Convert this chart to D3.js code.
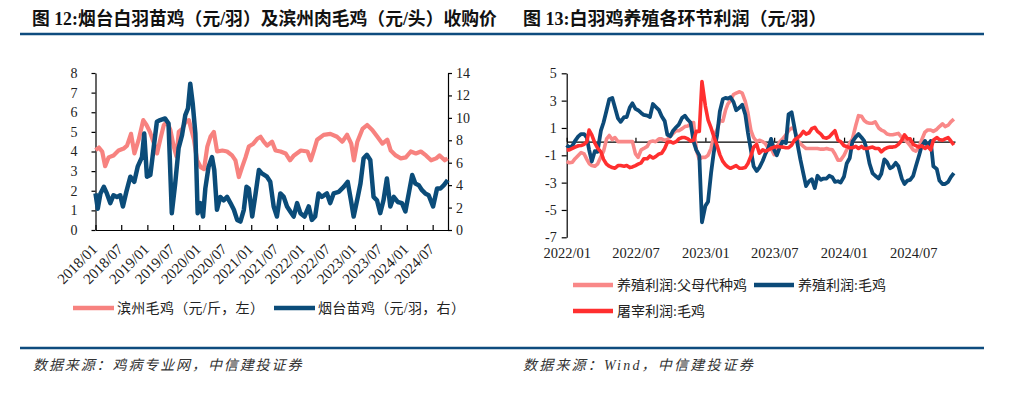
<!DOCTYPE html>
<html><head><meta charset="utf-8">
<script src="https://cdn.jsdelivr.net/npm/d3@7"></script>
<style>body{margin:0;background:#fff}svg{display:block}</style>
</head><body>
<svg id="c" width="1033" height="398"></svg>
<script>
// ---------- texts ----------
const leftTitle = "图 12:烟台白羽苗鸡（元/羽）及滨州肉毛鸡（元/头）收购价";
const rightTitle = "图 13:白羽鸡养殖各环节利润（元/羽）";
const leftSource = "数据来源：鸡病专业网，中信建投证券";
const rightSource = "数据来源：Wind，中信建投证券";
const leftLegend = ["滨州毛鸡（元/斤，左）", "烟台苗鸡（元/羽，右）"];
const rightLegend = ["养殖利润:父母代种鸡", "养殖利润:毛鸡", "屠宰利润:毛鸡"];

// ---------- left chart data ----------
const leftTickDates = ["2018-01-01","2018-07-01","2019-01-01","2019-07-01","2020-01-01","2020-07-01","2021-01-01","2021-07-01","2022-01-01","2022-07-01","2023-01-01","2023-07-01","2024-01-01","2024-07-01"];
const leftTickLabels = ["2018/01","2018/07","2019/01","2019/07","2020/01","2020/07","2021/01","2021/07","2022/01","2022/07","2023/01","2023/07","2024/01","2024/07"];
const leftAxisTicks = [0,1,2,3,4,5,6,7,8];
const rightAxisTicks = [0,2,4,6,8,10,12,14];

// 滨州毛鸡 (元/斤, left axis)
const binzhouBroiler = [
["2018-01-01",4.07],["2018-01-25",4.2],["2018-02-17",4.0],["2018-03-10",3.25],["2018-04-03",3.7],["2018-05-08",3.8],
["2018-06-12",4.05],["2018-07-18",4.15],["2018-08-11",4.3],["2018-09-08",4.9],["2018-10-02",3.9],["2018-11-01",4.6],
["2018-12-03",5.6],["2018-12-26",5.35],["2019-01-19",5.0],["2019-02-17",4.4],["2019-03-10",3.9],["2019-04-03",4.65],
["2019-04-27",5.35],["2019-05-19",5.5],["2019-06-12",5.1],["2019-07-06",4.25],["2019-07-25",3.75],["2019-08-10",5.0],
["2019-09-03",5.15],["2019-09-26",5.5],["2019-10-20",5.6],["2019-11-25",4.6],["2019-12-17",3.55],["2020-01-12",3.2],
["2020-02-04",3.1],["2020-02-27",4.25],["2020-03-20",4.75],["2020-04-13",5.0],["2020-05-06",4.0],["2020-06-12",4.05],
["2020-07-15",4.0],["2020-08-19",3.8],["2020-09-12",3.55],["2020-10-06",2.7],["2020-10-29",3.2],["2020-11-22",3.7],
["2020-12-15",4.25],["2021-01-16",4.4],["2021-02-13",4.65],["2021-03-08",4.75],["2021-03-30",4.5],["2021-04-23",4.3],
["2021-05-28",4.5],["2021-06-21",4.05],["2021-07-26",4.0],["2021-08-31",3.9],["2021-10-01",3.55],["2021-10-29",3.8],
["2021-12-16",4.05],["2022-02-01",4.0],["2022-02-24",3.55],["2022-03-18",4.05],["2022-04-10",4.6],["2022-05-26",4.85],
["2022-07-12",4.9],["2022-08-28",4.75],["2022-10-04",4.5],["2022-11-07",4.85],["2022-12-06",4.4],["2022-12-25",3.55],
["2023-01-18",4.5],["2023-02-23",5.15],["2023-03-28",5.35],["2023-05-03",5.1],["2023-06-08",4.75],["2023-07-14",4.4],
["2023-08-17",4.6],["2023-09-10",4.05],["2023-10-15",3.8],["2023-11-20",3.65],["2023-12-25",3.7],["2024-01-29",4.0],
["2024-03-05",3.9],["2024-04-09",4.0],["2024-05-15",3.8],["2024-06-20",3.55],["2024-07-26",3.65],["2024-08-19",3.8],
["2024-09-24",3.55],["2024-10-14",3.65]
];

// 烟台苗鸡 (元/羽, right axis)
const yantaiChick = [
["2018-01-01",3.26],["2018-01-17",1.9],["2018-02-05",3.26],["2018-03-01",3.85],["2018-03-22",3.26],["2018-04-15",2.4],
["2018-05-08",3.1],["2018-06-01",2.95],["2018-06-24",3.1],["2018-07-13",2.1],["2018-08-06",3.4],["2018-09-03",4.75],
["2018-10-01",4.3],["2018-10-25",5.65],["2018-11-24",6.5],["2018-12-10",8.6],["2018-12-29",4.75],["2019-01-22",4.9],
["2019-02-15",7.4],["2019-03-09",9.65],["2019-04-01",9.8],["2019-05-06",9.95],["2019-05-30",9.5],["2019-06-22",1.5],
["2019-07-16",4.15],["2019-08-09",7.3],["2019-09-02",8.45],["2019-09-25",10.25],["2019-10-14",10.85],["2019-10-30",13.05],
["2019-11-16",11.3],["2019-12-05",8.6],["2019-12-21",1.5],["2020-01-09",2.4],["2020-01-28",1.2],["2020-02-13",3.7],
["2020-03-07",5.65],["2020-03-31",6.5],["2020-04-16",5.35],["2020-05-05",1.8],["2020-05-28",2.95],["2020-06-21",2.65],
["2020-07-15",2.95],["2020-08-08",2.4],["2020-09-01",1.8],["2020-09-24",0.9],["2020-10-17",0.75],["2020-11-10",1.8],
["2020-11-29",3.85],["2020-12-15",3.7],["2021-01-08",1.2],["2021-02-01",3.26],["2021-02-24",5.35],["2021-03-17",5.05],
["2021-04-22",4.75],["2021-05-15",4.3],["2021-06-08",2.1],["2021-07-01",1.2],["2021-07-25",3.26],["2021-08-18",2.95],
["2021-09-10",2.1],["2021-10-03",1.65],["2021-10-27",1.2],["2021-11-20",2.4],["2021-12-13",1.5],["2022-01-11",1.2],
["2022-02-10",2.1],["2022-03-04",0.9],["2022-03-27",1.2],["2022-04-20",3.26],["2022-05-13",2.95],["2022-06-18",3.26],
["2022-07-11",2.4],["2022-08-04",3.26],["2022-09-09",3.4],["2022-10-14",3.85],["2022-11-11",4.3],["2022-12-04",2.65],
["2022-12-23",1.2],["2023-01-21",2.95],["2023-02-09",4.15],["2023-03-03",6.4],["2023-03-26",6.7],["2023-04-19",6.25],
["2023-05-12",2.95],["2023-06-05",2.65],["2023-06-28",1.5],["2023-07-21",2.65],["2023-08-14",4.6],["2023-09-07",2.1],
["2023-10-01",2.95],["2023-10-29",2.5],["2023-11-28",2.4],["2023-12-22",1.65],["2024-01-15",3.26],["2024-02-08",4.9],
["2024-03-01",4.15],["2024-03-25",4.0],["2024-04-17",3.55],["2024-05-10",3.26],["2024-06-03",3.1],["2024-07-04",2.1],
["2024-08-01",3.7],["2024-08-25",3.7],["2024-09-18",4.0],["2024-10-15",4.45]
];

// ---------- right chart data ----------
const profitMonths = ["2022-01","2022-02","2022-03","2022-04","2022-05","2022-06","2022-07","2022-08","2022-09","2022-10","2022-11","2022-12",
"2023-01","2023-02","2023-03","2023-04","2023-05","2023-06","2023-07","2023-08","2023-09","2023-10","2023-11","2023-12",
"2024-01","2024-02","2024-03","2024-04","2024-05","2024-06","2024-07","2024-08","2024-09","2024-10"];
const sampleDays = ["01","08","16","23"];
const profitTickDates = ["2022-01-01","2022-07-01","2023-01-01","2023-07-01","2024-01-01","2024-07-01"];
const profitTickLabels = ["2022/01","2022/07","2023/01","2023/07","2024/01","2024/07"];
const profitAxisTicks = [-7,-5,-3,-1,1,3,5];
const profitAxisLabels = ["-7","-5","-3","-1","1","3","5"];

// 养殖利润:父母代种鸡
const breederProfit = [
-1.45,-1.55,-1.5,-1.25, -1.0,-0.8,-0.9,-1.3, -1.6,-1.75,-1.8,-1.65, -1.1,-0.7,0.2,0.45,
0.15,0.3,0.0,0.0, 0.0,0.0,0.0,0.0, -0.9,-1.15,-0.6,-0.5, -0.35,0.0,0.05,0.0,
0.2,0.2,0.1,0.15, 0.4,0.6,0.8,0.8, 0.95,1.1,1.15,1.3, 1.4,-0.6,-1.3,-1.15,
-1.15,-1.0,-0.5,0.4, 0.9,1.55,1.5,2.3, 2.75,3.0,3.45,3.55, 3.65,3.55,2.95,2.1,
0.8,0.3,0.0,0.1, 0.0,-0.15,-0.5,-0.5, -0.95,-0.4,0.0,0.2, 0.5,0.8,1.0,0.9,
0.1,-0.15,-0.35,-0.5, -0.5,-0.5,-0.5,-0.5, -0.55,-0.55,-0.5,-0.55, -0.6,-0.9,-1.35,-1.35,
-1.0,-0.6,-0.1,0.2, 1.2,1.9,1.85,1.55, 1.4,1.35,1.35,1.45, 1.0,0.85,0.75,0.55,
0.5,0.5,0.55,0.6, 0.3,0.15,-0.05,-0.3, -0.6,-0.7,-0.4,0.1, 0.7,0.85,0.85,0.75,
0.9,1.1,1.3,1.1, 1.2,1.45,1.65
];
// 养殖利润:毛鸡
const broilerProfit = [
-0.25,-0.45,-0.3,0.05, 0.4,0.55,0.55,0.3, -0.6,-1.45,-0.7,-0.75, 0.8,1.4,2.3,3.1,
3.2,2.5,1.7,1.45, 1.8,1.8,2.5,2.8, 2.4,2.3,2.1,1.95, 1.9,1.8,2.75,2.55,
2.3,1.85,1.5,0.5, 0.4,0.8,1.05,1.25, 1.75,1.9,1.6,1.4, 0.0,-0.6,-1.0,-5.9,
-4.7,-4.4,-2.3,-0.8, 0.5,2.2,3.1,3.2, 3.15,3.25,2.9,2.3, 2.5,2.7,2.0,0.65,
-0.65,-1.8,-2.15,-1.9, -1.4,-0.9,-0.45,0.2, -0.6,-1.0,-0.4,0.0, -0.1,2.0,2.15,1.1,
-0.25,-1.3,-2.35,-3.25, -2.9,-2.75,-3.4,-2.5, -2.8,-2.7,-2.7,-2.5, -2.6,-2.95,-2.9,-3.0,
-2.55,-1.6,-1.2,0.0, 0.35,0.55,0.3,0.05, -0.6,-1.6,-2.3,-2.5, -2.7,-2.35,-1.3,-1.5,
-1.95,-1.85,-1.55,-1.8, -2.7,-3.1,-2.85,-2.8, -2.5,-1.8,-1.05,-0.35, 0.05,-0.3,0.05,-1.8,
-2.0,-2.85,-3.1,-3.1, -2.95,-2.6,-2.3
];
// 屠宰利润:毛鸡
const slaughterProfit = [
-0.6,-0.6,-0.5,-0.4, -0.3,-0.28,-0.2,0.0, 0.85,0.5,-0.1,-0.45, -0.75,-1.3,-1.65,-1.8,
-1.9,-1.95,-1.75,-1.75, -1.8,-1.75,-1.9,-1.85, -1.75,-1.65,-1.55,-1.25, -1.25,-1.05,-1.2,-1.1,
-0.9,-0.85,-0.5,-0.05, 0.0,-0.1,0.0,0.2, 0.3,0.3,0.2,0.05, 0.1,0.75,0.75,4.4,
2.6,1.6,1.0,0.4, -0.3,-0.95,-1.45,-1.7, -1.85,-1.95,-1.85,-1.75, -1.95,-1.95,-1.9,-1.6,
-1.05,-0.4,-0.2,-0.85, -0.6,-0.7,-0.6,-0.5, -0.4,-0.35,-0.38,-0.4, -0.45,-0.45,-0.25,0.1,
0.3,0.45,0.75,0.55, 0.65,0.95,1.05,0.75, 0.55,0.3,0.25,0.35, 0.6,0.8,0.1,0.0,
-0.3,-0.35,-0.45,-0.45, -0.35,-0.5,-0.35,-0.5, -0.5,-0.45,-0.4,-0.5, -0.5,-0.75,-0.55,-0.45,
-0.4,-0.4,-0.35,-0.2, 0.1,0.5,0.2,0.2, -0.2,-0.3,-0.4,-0.3, -0.5,-0.35,-0.6,0.1,
0.3,0.15,0.1,0.2, 0.3,0.05,-0.25
];

// ---------- drawing ----------
const parse = d3.timeParse("%Y-%m-%d");
const svg = d3.select("#c");
const serif = "'Liberation Serif','Times New Roman','Noto Sans CJK SC',serif";
const cjk = "'Liberation Serif','Noto Sans CJK SC',sans-serif";
const NAVY = "#0E4C7E";
const textCol = "#222";

// headers
svg.append("text").attr("x", 32).attr("y", 25).attr("font-family", cjk).attr("font-weight", "bold")
  .attr("font-size", 17.8).attr("fill", "#111").text(leftTitle);
svg.append("text").attr("x", 523).attr("y", 25).attr("font-family", cjk).attr("font-weight", "bold")
  .attr("font-size", 18).attr("fill", "#111").text(rightTitle);
svg.append("line").attr("x1", 20).attr("x2", 984).attr("y1", 34).attr("y2", 34)
  .attr("stroke", NAVY).attr("stroke-width", 2.5);
svg.append("line").attr("x1", 20).attr("x2", 984).attr("y1", 348).attr("y2", 348)
  .attr("stroke", NAVY).attr("stroke-width", 2.5);
svg.append("text").attr("x", 33).attr("y", 370).attr("font-family", cjk).attr("font-style", "italic")
  .attr("font-size", 14).attr("letter-spacing", 1.9).attr("fill", "#333").text(leftSource);
svg.append("text").attr("x", 523).attr("y", 370).attr("font-family", cjk).attr("font-style", "italic")
  .attr("font-size", 14).attr("letter-spacing", 2.2).attr("fill", "#333").text(rightSource);

function styleAxis(g, size) {
  g.selectAll("path.domain").attr("stroke", "#000").attr("stroke-width", 1.2);
  g.selectAll(".tick line").attr("stroke", "#000").attr("stroke-width", 1.2);
  g.selectAll(".tick text").attr("font-family", serif).attr("font-size", size).attr("fill", textCol);
}

// ===== Left chart =====
const xL = d3.scaleTime().domain([parse("2018-01-01"), parse("2024-10-17")]).range([95.5, 448]);
const yL = d3.scaleLinear().domain([0, 8]).range([230, 73]);
const yR = d3.scaleLinear().domain([0, 14]).range([230, 73]);

const gLy = svg.append("g").attr("transform", `translate(${xL.range()[0]},0)`)
  .call(d3.axisLeft(yL).tickValues(leftAxisTicks).tickFormat(d3.format("d")).tickSize(4).tickSizeOuter(0).tickPadding(14));
styleAxis(gLy, 14);
const gRy = svg.append("g").attr("transform", `translate(${xL.range()[1]},0)`)
  .call(d3.axisRight(yR).tickValues(rightAxisTicks).tickFormat(d3.format("d")).tickSize(4).tickSizeOuter(0).tickPadding(4));
styleAxis(gRy, 14);
const gLx = svg.append("g").attr("transform", `translate(0,${yL.range()[0]})`)
  .call(d3.axisBottom(xL).tickValues(leftTickDates.map(parse))
    .tickFormat((d, i) => leftTickLabels[i]).tickSize(-5).tickSizeOuter(0));
styleAxis(gLx, 15);
gLx.selectAll(".tick text").attr("x", 0).attr("y", 0).attr("dy", "0.35em")
  .attr("text-anchor", "end").attr("transform", "translate(-1.5,16.5) rotate(-45)");

const lineL = d3.line().x(d => xL(parse(d[0]))).y(d => yL(d[1]));
const lineR = d3.line().x(d => xL(parse(d[0]))).y(d => yR(d[1]));
svg.append("path").datum(binzhouBroiler).attr("d", lineL).attr("fill", "none")
  .attr("stroke", "#F7827F").attr("stroke-width", 4.2).attr("stroke-linejoin", "round");
svg.append("path").datum(yantaiChick).attr("d", lineR).attr("fill", "none")
  .attr("stroke", "#0B4C79").attr("stroke-width", 4.5).attr("stroke-linejoin", "round");

// left legend
const legL = [{c: "#F7827F", x: 73, t: leftLegend[0]}, {c: "#0B4C79", x: 274, t: leftLegend[1]}];
legL.forEach(l => {
  svg.append("line").attr("x1", l.x).attr("x2", l.x + 41).attr("y1", 308).attr("y2", 308)
    .attr("stroke", l.c).attr("stroke-width", 4.5);
  svg.append("text").attr("x", l.x + 44).attr("y", 313).attr("font-family", cjk)
    .attr("font-size", 14).attr("letter-spacing", 0.3).attr("fill", textCol).text(l.t);
});

// ===== Right chart =====
const profitDates = profitMonths.flatMap(m => sampleDays.map(d => `${m}-${d}`)).slice(0, breederProfit.length);
const xP = d3.scaleTime().domain([parse("2022-01-01"), parse("2024-10-19")]).range([566.7, 955]);
const yP = d3.scaleLinear().domain([-7, 5]).range([237.3, 73.3]);

const gPy = svg.append("g").attr("transform", `translate(${xP.range()[0]},0)`)
  .call(d3.axisLeft(yP).tickValues(profitAxisTicks).tickFormat((d, i) => profitAxisLabels[i])
    .tickSize(5).tickSizeOuter(0).tickPadding(5));
styleAxis(gPy, 14);
const gZero = svg.append("g").attr("transform", `translate(0,${yP(0)})`)
  .call(d3.axisBottom(xP).tickValues(profitTickDates.map(parse)).tickFormat("").tickSize(-4).tickSizeOuter(0));
styleAxis(gZero, 14);
const gPx = svg.append("g").attr("transform", `translate(0,244)`)
  .call(d3.axisBottom(xP).tickValues(profitTickDates.map(parse)).tickFormat((d, i) => profitTickLabels[i])
    .tickSize(0).tickPadding(4));
gPx.select("path.domain").remove();
styleAxis(gPx, 14.5);

const series = [
  {v: breederProfit, c: "#F98888", w: 3.6},
  {v: broilerProfit, c: "#0C4A78", w: 3.8},
  {v: slaughterProfit, c: "#FF2F2F", w: 3.6}
];
const lineP = d3.line().x((d, i) => xP(parse(profitDates[i]))).y(d => yP(d));
series.forEach(s => {
  svg.append("path").datum(s.v).attr("d", lineP).attr("fill", "none")
    .attr("stroke", s.c).attr("stroke-width", s.w).attr("stroke-linejoin", "round");
});

// right legend
const legR = [
  {c: "#F98888", x: 573, y: 285, t: rightLegend[0]},
  {c: "#0C4A78", x: 754, y: 285, t: rightLegend[1]},
  {c: "#FF2F2F", x: 573, y: 311, t: rightLegend[2]}
];
legR.forEach(l => {
  svg.append("line").attr("x1", l.x).attr("x2", l.x + 40).attr("y1", l.y).attr("y2", l.y)
    .attr("stroke", l.c).attr("stroke-width", 4.5);
  svg.append("text").attr("x", l.x + 44).attr("y", l.y + 5).attr("font-family", cjk)
    .attr("font-size", 14).attr("fill", textCol).text(l.t);
});
</script>
</body></html>
